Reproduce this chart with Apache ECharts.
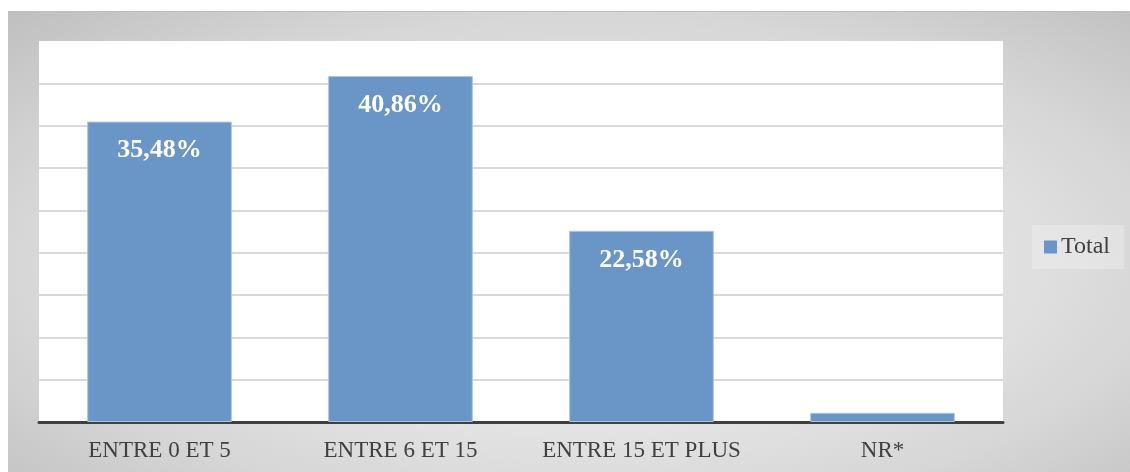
<!DOCTYPE html>
<html>
<head>
<meta charset="utf-8">
<script src="https://cdn.jsdelivr.net/npm/echarts@6/dist/echarts.min.js"></script>
<style>
html,body{margin:0;padding:0;background:#fff;}
#wrap{position:relative;width:1130px;height:472px;overflow:hidden;}
#bg{position:absolute;left:8px;top:11px;width:1122px;height:461px;border-top:1px solid #bdbdbd;box-sizing:border-box;
background:radial-gradient(ellipse farthest-corner at 52% 55%, #f4f4f4 0%, #e9e9e9 35%, #d6d6d6 70%, #bfbfbf 100%);}
#chart{position:absolute;left:0;top:0;width:1130px;height:472px;}
</style>
</head>
<body>
<div id="wrap"><div id="bg"></div><div id="chart"></div></div>
<script>
const categories = ['ENTRE 0 ET 5', 'ENTRE 6 ET 15', 'ENTRE 15 ET PLUS', 'NR*'];
const totalValues = [35.48, 40.86, 22.58, 1.08];
const seriesName = 'Total';

const chart = echarts.init(document.getElementById('chart'), null, {renderer: 'canvas'});
chart.setOption({
  animation: false,
  grid: {left: 39, right: 127, top: 41, bottom: 50, show: true, backgroundColor: '#ffffff', borderWidth: 0},
  legend: {
    data: [{name: seriesName, icon: 'rect'}], orient: 'vertical', left: 1032, top: 225,
    itemWidth: 13, itemHeight: 13, itemGap: 6,
    padding: [10, 14, 10, 12],
    backgroundColor: 'rgba(255,255,255,0.25)',
    itemStyle: {borderWidth: 0},
    textStyle: {fontFamily: 'Liberation Serif', fontSize: 24, color: '#404040', padding: [0, 0, 0, -1]}
  },
  xAxis: {
    type: 'category', data: categories,
    axisLine: {lineStyle: {color: '#404040', width: 3}},
    axisTick: {show: false},
    axisLabel: {interval: 0, hideOverlap: false, fontFamily: 'Liberation Serif', fontSize: 23, color: '#404040', margin: 17}
  },
  yAxis: {
    type: 'value', min: 0, max: 45, interval: 5,
    axisLabel: {show: false}, axisLine: {show: false}, axisTick: {show: false},
    splitLine: {show: true, showMaxLine: false, lineStyle: {color: '#d9d9d9', width: 2}}
  },
  series: [{
    name: seriesName, type: 'bar', data: totalValues, barWidth: '60%',
    itemStyle: {color: '#6a95c7', borderColor: '#a9c3e3', borderWidth: 1},
    label: {
      show: true, position: 'insideTop', distance: 16,
      formatter: p => p.value > 5 ? p.value.toFixed(2).replace('.', ',') + '%' : '',
      fontFamily: 'Liberation Serif', fontWeight: 'bold', fontSize: 26, color: '#ffffff'
    }
  }]
});
</script>
</body>
</html>
